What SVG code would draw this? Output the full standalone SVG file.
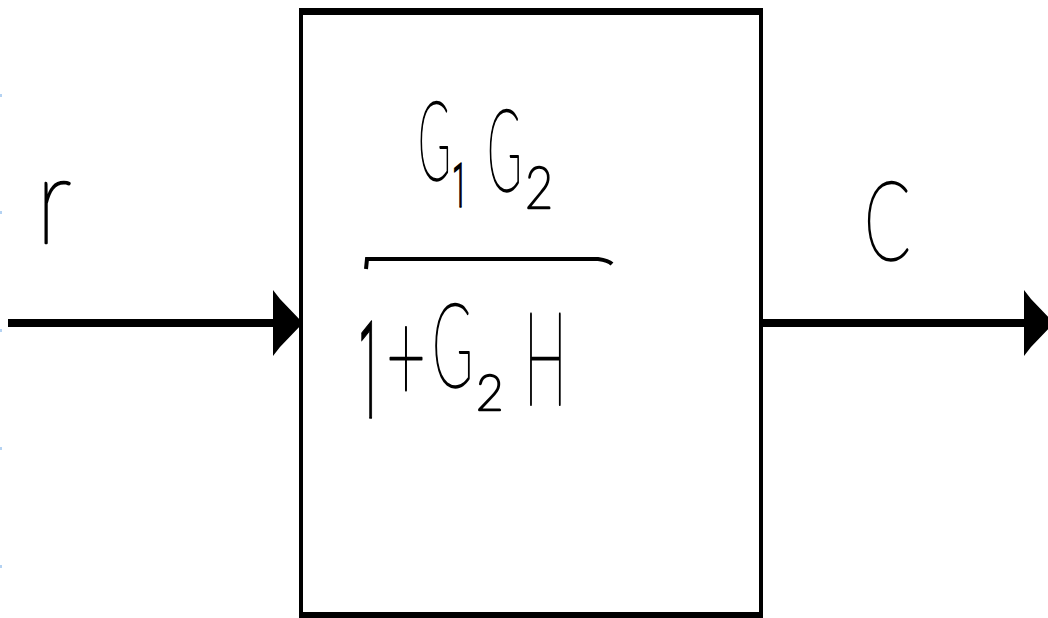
<svg xmlns="http://www.w3.org/2000/svg" width="1048" height="618" viewBox="0 0 1048 618">
<defs>
<style>
.hw{font-family:"Lato","Inter","Roboto",sans-serif;font-weight:200;fill:#000;stroke:#000;stroke-width:2.4;stroke-linejoin:round}
.one{font-family:"Roboto","Open Sans","Liberation Sans",sans-serif;font-weight:300;stroke-width:1.6}
.wire{stroke:#000;stroke-width:8;fill:none}
.dot{fill:#b4d2f2}
</style>
<marker id="ah" markerUnits="userSpaceOnUse" markerWidth="34" markerHeight="72" viewBox="-31 -36 34 72" refX="0" refY="0" orient="auto">
<path d="M-30,-33 L-23,-24 L0,0 L-23,24 L-30,33 Z" fill="#000"/>
</marker>
</defs>
<rect width="1048" height="618" fill="#fff"/>
<g id="dots">
<rect class="dot" x="0" y="94" width="2" height="3"/>
<rect class="dot" x="0" y="211" width="2" height="3"/>
<rect class="dot" x="0" y="329" width="2" height="3"/>
<rect class="dot" x="0" y="447" width="2" height="3"/>
<rect class="dot" x="0" y="565" width="2" height="3"/>
</g>
<g id="block">
<path d="M301,618 L301,11 L761,11 L761,618" fill="none" stroke="#000" stroke-width="4"/>
<rect x="299" y="8" width="464" height="7" fill="#000"/>
<rect x="299" y="612" width="464" height="6" fill="#000"/>
<g id="transfer">
<text class="hw" transform="translate(418,180) scale(0.40,1)" font-size="111">G</text>
<text class="hw one" transform="translate(452,207) scale(0.45,1)" font-size="61">1</text>
<text class="hw" transform="translate(487,191) scale(0.41,1)" font-size="115">G</text>
<text class="hw" transform="translate(525,208) scale(0.85,1)" font-size="57">2</text>
<path d="M366,269 L367,259 L598,259 C605,260 609,261 612,264" fill="none" stroke="#000" stroke-width="4"/>
<text class="hw one" transform="translate(358,418) scale(0.30,1)" font-size="136">1</text>
<text class="hw" transform="translate(386,402) scale(0.53,1)" font-size="130">+</text>
<text class="hw" transform="translate(432,387) scale(0.48,1)" font-size="116">G</text>
<text class="hw" transform="translate(476,410) scale(0.95,1)" font-size="50">2</text>
<text class="hw" transform="translate(524,405) scale(0.44,1)" font-size="130">H</text>
</g>
</g>
<g id="connectors">
<line class="wire" x1="8" y1="323" x2="303" y2="323" marker-end="url(#ah)"/>
<line class="wire" x1="762" y1="323" x2="1054" y2="323" marker-end="url(#ah)"/>
</g>
<g id="labels">
<text class="hw" transform="translate(36,243) scale(0.84,1)" font-size="123">r</text>
<text class="hw" transform="translate(864,260) scale(0.62,1)" font-size="110">C</text>
</g>
</svg>
